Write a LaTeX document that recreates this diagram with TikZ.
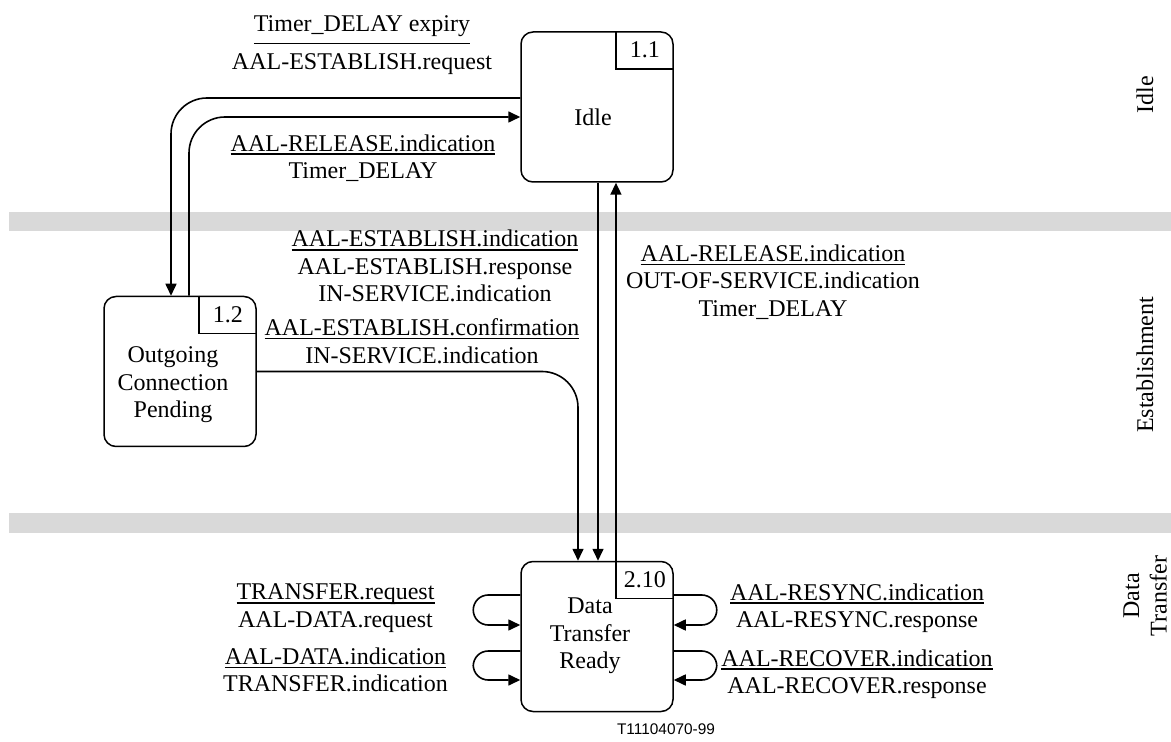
\documentclass[tikz,border=0pt]{standalone}
\usepackage{fontspec}
\setmainfont{Liberation Serif}
\newfontfamily\figsans{Liberation Sans}
\usetikzlibrary{arrows.meta}
% underlined signal name, rule at a fixed distance below the baseline
\newcommand\uln[2][1.2pt]{\setbox0\hbox{#2}\vtop{\hbox{\copy0}\vskip-\dp0\kern#1\hrule height .75pt}}

\begin{document}
\begin{tikzpicture}[x=.5pt,y=-.5pt,>={Triangle[length=6pt,width=5.5pt]},
 every node/.style={font=\fontsize{12}{13.75}\selectfont,inner sep=0pt},
 state/.style={draw,rounded corners=6pt,line width=.75pt,minimum width=76pt,minimum height=75pt},
 numbox/.style={anchor=north east,minimum width=28.5pt,minimum height=18.5pt},
 numline/.style={line width=.6pt},
 arr/.style={->,line width=.8pt},
 lbl/.style={align=center},
 phase/.style={align=center,rotate=90},
 band/.style={fill=black!15,draw=none}]
\useasboundingbox (0,0) rectangle (1171,742);
\fill[band] (9,212) rectangle (1171,231);
\fill[band] (9,513) rectangle (1171,533);
% states
\node[state] (idle) at (597,107) {};
\node[state] (ocp) at (180,371.5) {};
\node[state] (dtr) at (597,636.5) {};
\node (idletext) at (593,117) {Idle};
\node[lbl] (ocptext) at (173,385) {Outgoing\\Connection\\Pending};
\node[lbl] (dtrtext) at (590,636) {Data\\Transfer\\Ready};
\node[numbox] (idleno) at (idle.north east) {1.1};
\node[numbox] (ocpno) at (ocp.north east) {1.2};
\node[numbox] (dtrno) at (dtr.north east) {2.10};
\draw[numline] (idleno.north west) -- (idleno.south west) -- (idleno.south east);
\draw[numline] (ocpno.north west) -- (ocpno.south west) -- (ocpno.south east);
\draw[numline] (dtrno.north west) -- (dtrno.south west) -- (dtrno.south east);
% transitions
\draw[arr,rounded corners=18pt] ([yshift=4.5pt]idle.west) -| ([xshift=-4.5pt]ocp.north);
\draw[arr,rounded corners=18pt] ([xshift=4.5pt]ocp.north) |- ([yshift=-5pt]idle.west);
\draw[arr] ([xshift=.5pt]idle.south) -- ([xshift=.5pt]idle.south |- dtr.north);
\draw[arr] (dtrno.north west) -- (dtrno.north west |- idle.south);
\draw[arr,rounded corners=18pt] (ocp.east) -| ([xshift=-9.5pt]dtr.north);
\draw[arr,rounded corners=7.5pt] ([yshift=20.75pt]dtr.west) -- ++(-23.5pt,0) |- ([yshift=5.75pt]dtr.west);
\draw[arr,rounded corners=7.5pt] ([yshift=-7.25pt]dtr.west) -- ++(-23.5pt,0) |- ([yshift=-21.75pt]dtr.west);
\draw[arr,rounded corners=7.5pt] ([yshift=20.75pt]dtr.east) -- ++(21.5pt,0) |- ([yshift=5.75pt]dtr.east);
\draw[arr,rounded corners=7.5pt] ([yshift=-7.25pt]dtr.east) -- ++(21.5pt,0) |- ([yshift=-21.75pt]dtr.east);
% signal labels
\node[lbl] (lexpiry) at (362,45) {\uln[5.5pt]{Timer\_DELAY expiry}\\[3.5pt]AAL-ESTABLISH.request};
\node[lbl] (lrelidle) at (363,158) {\uln{AAL-RELEASE.indication}\\Timer\_DELAY};
\node[lbl] (lestind) at (435,266) {\uln{AAL-ESTABLISH.indication}\\AAL-ESTABLISH.response\\IN-SERVICE.indication};
\node[lbl] (lestconf) at (422,341) {\uln{AAL-ESTABLISH.confirmation}\\IN-SERVICE.indication};
\node[lbl] (lreldtr) at (773,282) {\uln{AAL-RELEASE.indication}\\OUT-OF-SERVICE.indication\\Timer\_DELAY};
\node[lbl] (ltxreq) at (335.5,608) {\uln{TRANSFER.request}\\AAL-DATA.request};
\node[lbl] (ldataind) at (335.5,670) {\uln{AAL-DATA.indication}\\TRANSFER.indication};
\node[lbl] (lresync) at (857,608) {\uln{AAL-RESYNC.indication}\\AAL-RESYNC.response};
\node[lbl] (lrecover) at (857,674) {\uln{AAL-RECOVER.indication}\\AAL-RECOVER.response};
% phases
\node[phase] (pidle) at (1145,95) {Idle};
\node[phase] (pest) at (1145,365) {Establishment};
\node[phase] (pdata) at (1145,596) {Data\\Transfer};
\node[font=\figsans\fontsize{7.7}{9}\selectfont] (figid) at (666,729) {T11104070-99};
\end{tikzpicture}
\end{document}
